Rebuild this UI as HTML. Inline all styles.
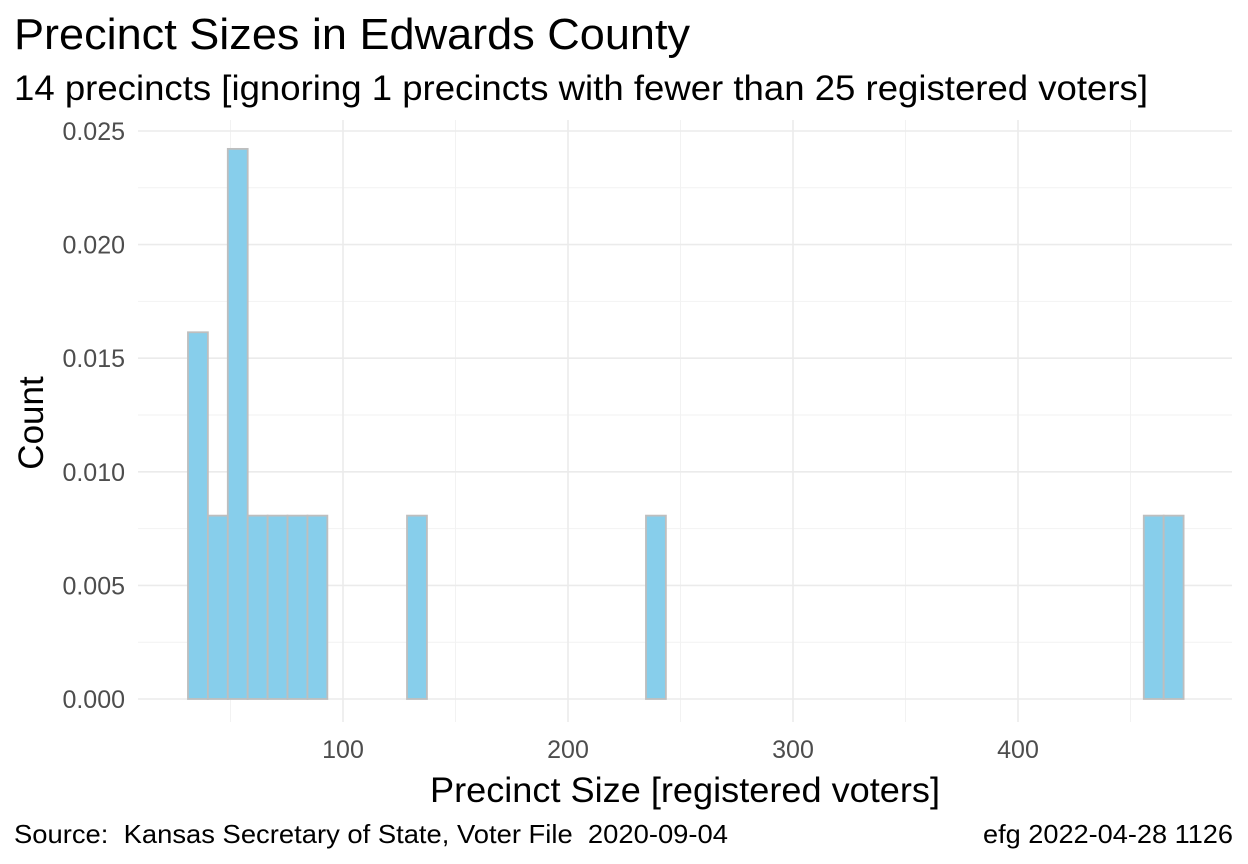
<!DOCTYPE html>
<html><head><meta charset="utf-8"><style>
body{margin:0;background:#fff;font-family:"Liberation Sans",sans-serif}
svg{display:block}
text{white-space:pre}
</style></head><body>
<svg id="chart" width="1248" height="864" xmlns="http://www.w3.org/2000/svg">
<text x="14" y="49" font-size="44" textLength="676" lengthAdjust="spacingAndGlyphs" fill="#000">Precinct Sizes in Edwards County</text>
<text x="14" y="100" font-size="35" textLength="1134" lengthAdjust="spacingAndGlyphs" fill="#000">14 precincts [ignoring 1 precincts with fewer than 25 registered voters]</text>
<g id="grid"></g>
<g id="bars"></g>
<g id="ticks"></g>
<text x="430" y="802" font-size="35" textLength="510" lengthAdjust="spacingAndGlyphs">Precinct Size [registered voters]</text>
<text transform="translate(43,423) rotate(-90)" font-size="35" text-anchor="middle">Count</text>
<text x="14" y="843" font-size="26" textLength="714" lengthAdjust="spacingAndGlyphs" xml:space="preserve">Source:  Kansas Secretary of State, Voter File  2020-09-04</text>
<text x="983" y="843" font-size="26" textLength="250" lengthAdjust="spacingAndGlyphs">efg 2022-04-28 1126</text>
</svg>
<script>
const binStart = 31.1;
const binWidth = 8.85;
const counts = [2,1,3,1,1,1,1,0,0,0,0,1,0,0,0,0,0,0,0,0,0,0,0,1,0,0,0,0,0,0,0,0,0,0,0,0,0,0,0,0,0,0,0,0,0,0,0,0,1,1];
const total = 14;
const xTicks = [100,200,300,400];
const xMinor = [50,150,250,350,450];
const yTicks = [0,0.005,0.010,0.015,0.020,0.025];
const yTickLabels = ["0.000","0.005","0.010","0.015","0.020","0.025"];
const yMinor = [0.0025,0.0075,0.0125,0.0175,0.0225];

const NS="http://www.w3.org/2000/svg";
const X=v=>118+v*2.25;
const Y=v=>699-v*22720;
const L=138,R=1232,T=120,B=722;
function mk(tag,attrs,parent){const e=document.createElementNS(NS,tag);for(const k in attrs)e.setAttribute(k,attrs[k]);parent.appendChild(e);return e;}
const grid=document.getElementById('grid'),bars=document.getElementById('bars'),ticks=document.getElementById('ticks');
yMinor.forEach(v=>{const e=mk('line',{x1:L,x2:R,y1:Y(v),y2:Y(v),stroke:'#f2f2f2','stroke-width':1},grid);

});
xMinor.forEach(v=>{const e=mk('line',{x1:X(v),x2:X(v),y1:T,y2:B,stroke:'#f2f2f2','stroke-width':1},grid);

});
yTicks.forEach((v,i)=>{const e=mk('line',{x1:L,x2:R,y1:Y(v),y2:Y(v),stroke:'#ebebeb','stroke-width':1.6},grid);


const t=mk('text',{x:125,y:Y(v)+9,'font-size':25,fill:'#4d4d4d','text-anchor':'end'},ticks);t.textContent=yTickLabels[i];

});
xTicks.forEach(v=>{const e=mk('line',{x1:X(v),x2:X(v),y1:T,y2:B,stroke:'#ebebeb','stroke-width':1.6},grid);


const t=mk('text',{x:X(v),y:758,'font-size':25,fill:'#4d4d4d','text-anchor':'middle'},ticks);t.textContent=v;

});
counts.forEach((c,i)=>{const d=c/(total*binWidth);const x0=X(binStart+i*binWidth),x1=X(binStart+(i+1)*binWidth);
const r=mk('rect',{x:x0,y:Y(d),width:x1-x0,height:Y(0)-Y(d),fill:'#87ceeb',stroke:'#bebebe','stroke-width':1.8},bars);

});
</script>
</body></html>
